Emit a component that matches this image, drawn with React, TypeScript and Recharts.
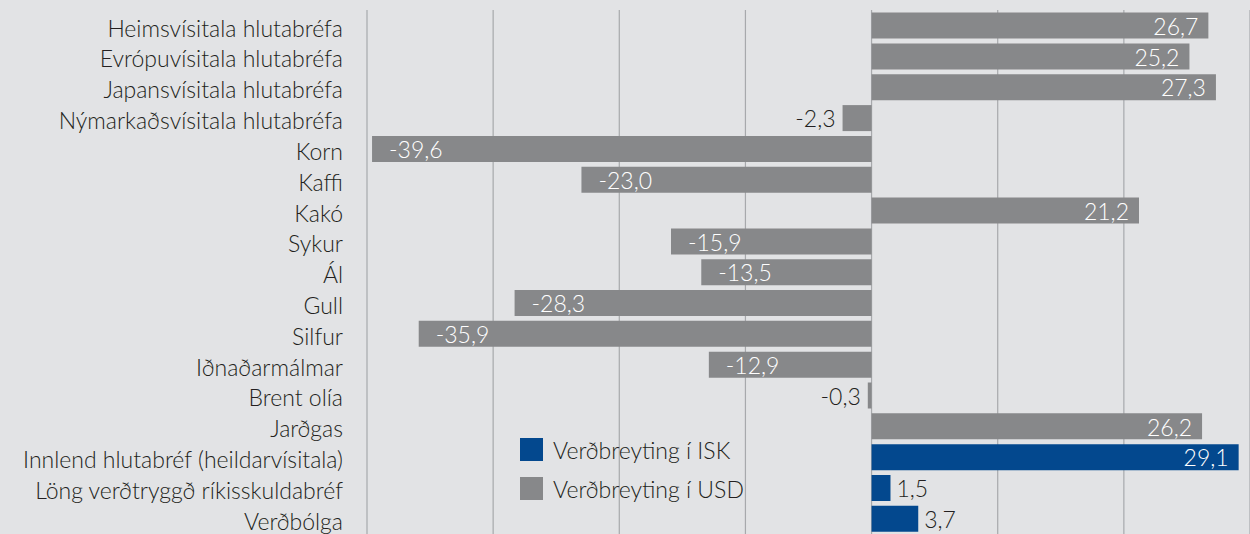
import { BarChart, Bar, XAxis, YAxis, CartesianGrid, Cell, LabelList } from 'recharts';

const categories = [
  'Heimsvísitala hlutabréfa',
  'Evrópuvísitala hlutabréfa',
  'Japansvísitala hlutabréfa',
  'Nýmarkaðsvísitala hlutabréfa',
  'Korn',
  'Kaffi',
  'Kakó',
  'Sykur',
  'Ál',
  'Gull',
  'Silfur',
  'Iðnaðarmálmar',
  'Brent olía',
  'Jarðgas',
  'Innlend hlutabréf (heildarvísitala)',
  'Löng verðtryggð ríkisskuldabréf',
  'Verðbólga',
];

const changes = [26.7, 25.2, 27.3, -2.3, -39.6, -23.0, 21.2, -15.9, -13.5, -28.3, -35.9, -12.9, -0.3, 26.2, 29.1, 1.5, 3.7];

// which currency each row is measured in
const currency = ['USD', 'USD', 'USD', 'USD', 'USD', 'USD', 'USD', 'USD', 'USD', 'USD', 'USD', 'USD', 'USD', 'USD', 'ISK', 'ISK', 'ISK'];

const xTicks = [-40, -30, -20, -10, 0, 10, 20, 30];

const legendItems = [
  { key: 'ISK', label: 'Verðbreyting í ISK' },
  { key: 'USD', label: 'Verðbreyting í USD' },
];

const COLORS: Record<string, string> = { ISK: '#03488e', USD: '#87888a' };
const FONT = 'Lato, "Open Sans", sans-serif';
const TEXT = '#231f20';
const FS = 23;

const data = categories.map((name, i) => ({ name, value: changes[i], currency: currency[i] }));

const fmt = (v: number) => v.toFixed(1).replace('.', ',');

interface LabelProps {
  x?: number;
  y?: number;
  width?: number;
  height?: number;
  value?: number;
}

function BarLabel({ x = 0, y = 0, width = 0, height = 0, value = 0 }: LabelProps) {
  const left = Math.min(x, x + width);
  const right = Math.max(x, x + width);
  const cy = y + height / 2;
  const short = Math.abs(value) < 5;
  let tx = 0;
  let anchor: 'start' | 'end' = 'start';
  if (value >= 0) {
    if (short) { tx = right + 6; anchor = 'start'; } else { tx = right - 10; anchor = 'end'; }
  } else {
    if (short) { tx = left - 7; anchor = 'end'; } else { tx = left + 17; anchor = 'start'; }
  }
  return (
    <text x={tx} y={cy} dy="0.4em" textAnchor={anchor} fill={short ? TEXT : '#ffffff'} fontSize={FS} fontWeight={300} fontFamily={FONT}>
      {fmt(value)}
    </text>
  );
}

function EmptyTick() {
  return <g />;
}

function LegendBox() {
  return (
    <div style={{ position: 'absolute', left: 520, top: 430, fontFamily: FONT, fontSize: FS, fontWeight: 300, color: TEXT }}>
      {legendItems.map((it) => (
        <div key={it.key} style={{ display: 'flex', alignItems: 'center', height: 39 }}>
          <span style={{ display: 'inline-block', width: 23, height: 23, background: COLORS[it.key], marginRight: 10 }} />
          <span>{it.label}</span>
        </div>
      ))}
    </div>
  );
}

export default function App() {
  return (
    <div style={{ position: 'absolute', left: 0, top: 0, width: 1250, height: 534, background: '#e2e3e5', overflow: 'hidden' }}>
      <BarChart
        width={1250}
        height={534}
        data={data}
        layout="vertical"
        margin={{ top: 10, right: 0, bottom: 0, left: 0 }}
        barCategoryGap="8.5%"
      >
        <CartesianGrid horizontal={false} stroke="#a7a9ac" strokeWidth={1.2} />
        <XAxis
          type="number"
          domain={[-40, 30]}
          ticks={xTicks}
          height={0}
          tick={<EmptyTick />}
          axisLine={false}
          tickLine={false}
        />
        <YAxis
          type="category"
          dataKey="name"
          width={367}
          axisLine={false}
          tickLine={false}
          tickSize={0}
          tickMargin={24}
          interval={0}
          tick={{ fontSize: FS, fill: TEXT, fontFamily: FONT, fontWeight: 300, dy: 3 }}
        />
        <Bar dataKey="value" isAnimationActive={false}>
          {data.map((d, i) => (
            <Cell key={`cell-${i}`} fill={COLORS[d.currency]} />
          ))}
          <LabelList dataKey="value" content={<BarLabel />} />
        </Bar>
      </BarChart>
      <LegendBox />
    </div>
  );
}
